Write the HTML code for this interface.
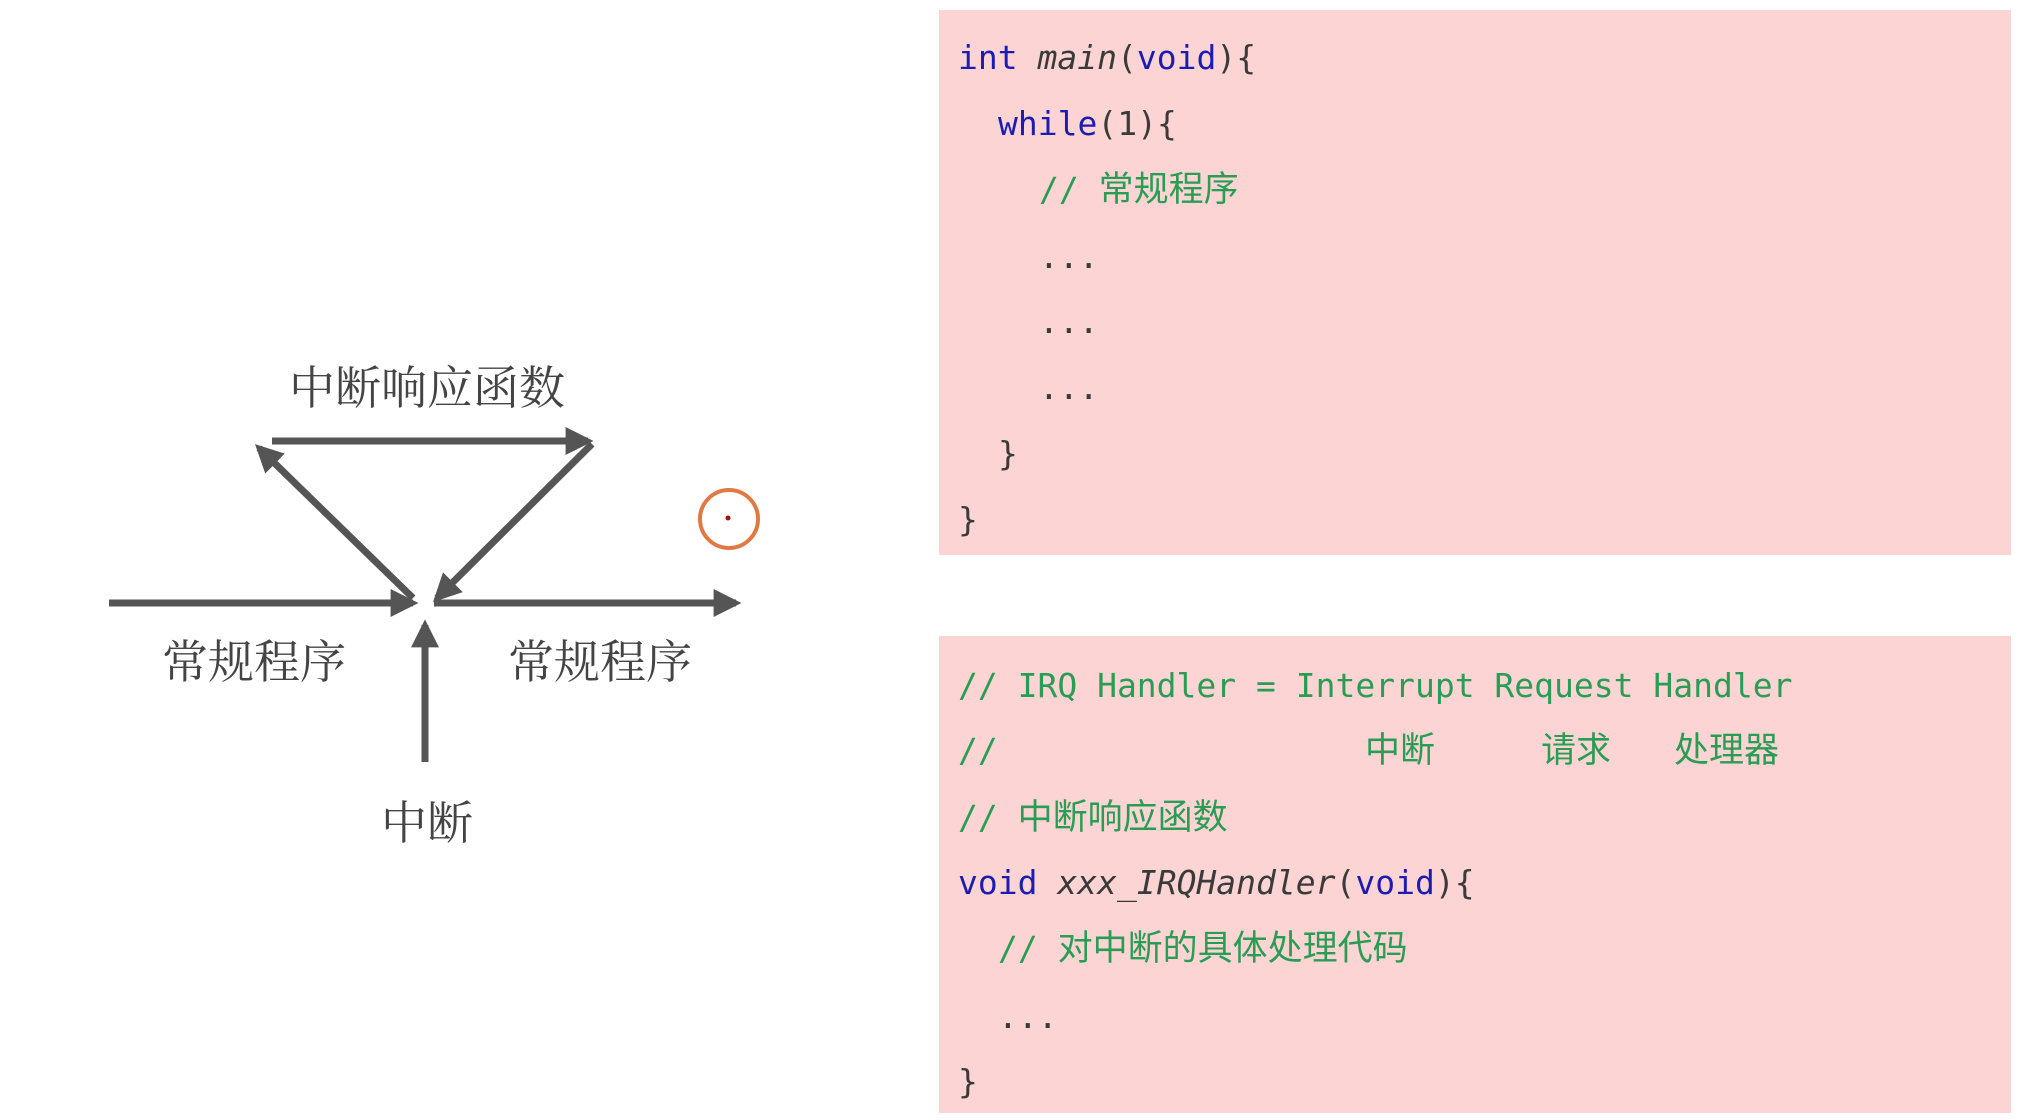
<!DOCTYPE html>
<html><head><meta charset="utf-8">
<style>
html,body{margin:0;padding:0;background:#fff;width:2042px;height:1120px;overflow:hidden}
svg{display:block}
.c{font-family:"DejaVu Sans Mono","Liberation Mono","Noto Sans CJK SC",monospace;font-size:33px}
.cj{font-family:"Liberation Mono","Noto Sans CJK SC",monospace;font-size:35px}
.k{fill:#1c1cb0}.g{fill:#2a9d55}.d{fill:#3a3a3a}
.lab{font-family:"Noto Serif CJK SC","Liberation Serif",serif;font-size:46px;fill:#444}
</style></head><body>
<svg width="2042" height="1120" viewBox="0 0 2042 1120" xmlns="http://www.w3.org/2000/svg">
<defs>
<marker id="a" viewBox="0 0 10 10" refX="8" refY="5" markerWidth="4" markerHeight="4" orient="auto" markerUnits="strokeWidth">
<path d="M0,0 L10,5 L0,10 z" fill="#555"/></marker>
</defs>
<rect x="939" y="10" width="1072" height="545" fill="#fcd4d4"/>
<rect x="939" y="636" width="1072" height="477" fill="#fcd4d4"/>

<g transform="translate(-4,0)">
<text class="c" x="962" y="69"><tspan class="k">int</tspan><tspan class="d"> </tspan><tspan class="d" font-style="italic">main</tspan><tspan class="d">(</tspan><tspan class="k">void</tspan><tspan class="d">){</tspan></text>
<text class="c" x="1002" y="135"><tspan class="k">while</tspan><tspan class="d">(1){</tspan></text>
<text class="c g" x="1043" y="201">// <tspan class="cj">常规程序</tspan></text>
<text class="c d" x="1043" y="268">...</text>
<text class="c d" x="1043" y="333">...</text>
<text class="c d" x="1043" y="399">...</text>
<text class="c d" x="1002" y="465">}</text>
<text class="c d" x="962" y="531">}</text>

<text class="c g" x="962" y="697">// IRQ Handler = Interrupt Request Handler</text>
<text class="c g" x="962" y="762">//</text>
<text class="cj g" x="1369" y="762">中断</text>
<text class="cj g" x="1545" y="762">请求</text>
<text class="cj g" x="1678" y="762">处理器</text>
<text class="c g" x="962" y="829">// <tspan class="cj">中断响应函数</tspan></text>
<text class="c" x="962" y="894"><tspan class="k">void</tspan><tspan class="d"> </tspan><tspan class="d" font-style="italic">xxx_IRQHandler</tspan><tspan class="d">(</tspan><tspan class="k">void</tspan><tspan class="d">){</tspan></text>
<text class="c g" x="1002" y="960">// <tspan class="cj">对中断的具体处理代码</tspan></text>
<text class="c d" x="1002" y="1028">...</text>
<text class="c d" x="962" y="1093">}</text>
</g>

<g stroke="#555" stroke-width="7" fill="none">
<line x1="109" y1="603" x2="413" y2="603" marker-end="url(#a)"/>
<line x1="434" y1="603" x2="736" y2="603" marker-end="url(#a)"/>
<line x1="425" y1="762" x2="425" y2="625" marker-end="url(#a)"/>
<line x1="272" y1="441" x2="588" y2="441" marker-end="url(#a)"/>
<line x1="413" y1="598" x2="259" y2="448" marker-end="url(#a)"/>
<line x1="592" y1="444" x2="437" y2="598" marker-end="url(#a)"/>
</g>
<text class="lab" x="427" y="404" text-anchor="middle">中断响应函数</text>
<text class="lab" x="254" y="678" text-anchor="middle">常规程序</text>
<text class="lab" x="600" y="678" text-anchor="middle">常规程序</text>
<text class="lab" x="427" y="839" text-anchor="middle">中断</text>

<circle cx="729" cy="519" r="29" fill="none" stroke="#e07a45" stroke-width="4"/>
<circle cx="728" cy="518" r="2.5" fill="#a01010"/>
</svg>
</body></html>
